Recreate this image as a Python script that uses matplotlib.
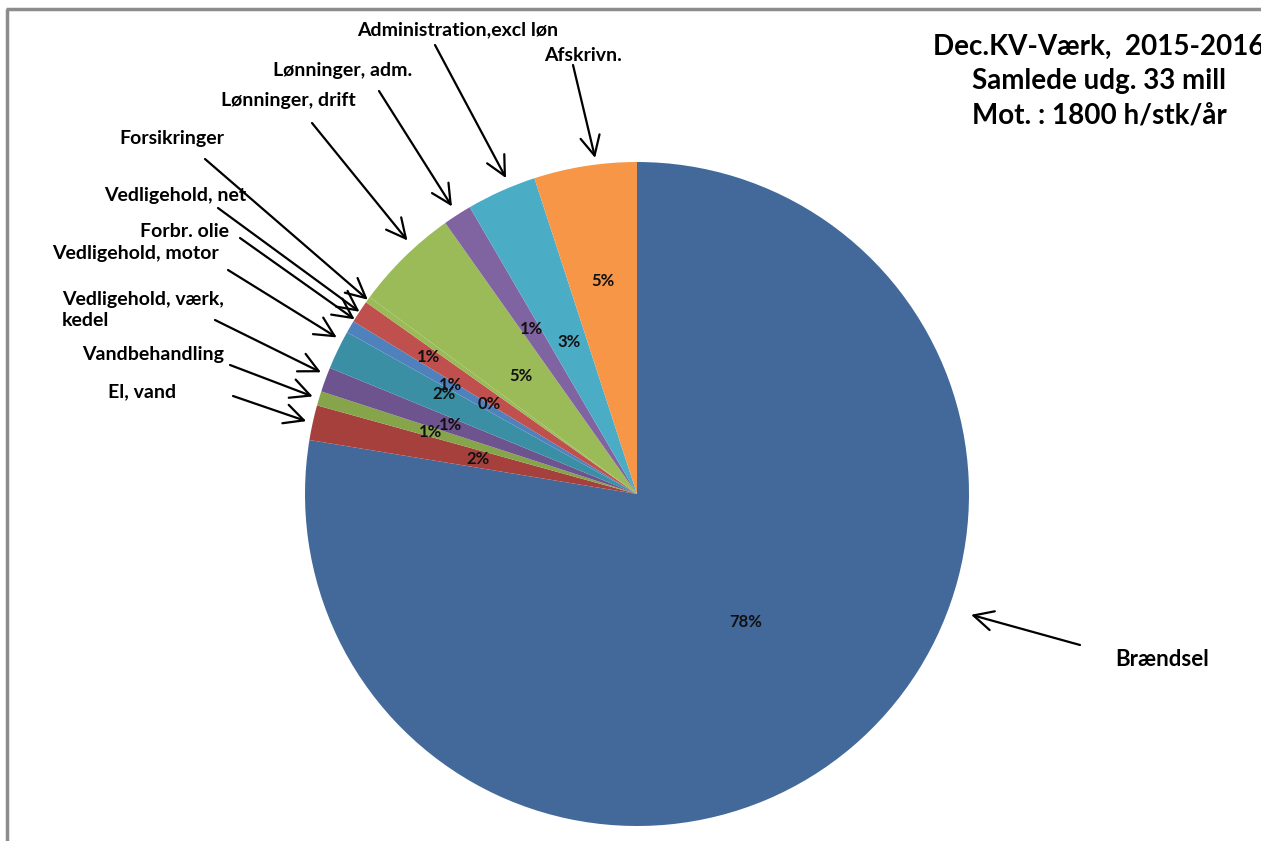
import matplotlib.pyplot as plt
import numpy as np

plt.rcParams['font.family'] = ['Lato', 'DejaVu Sans']

# udgiftsposter og andel af samlede udgifter i %
poster = ['Brændsel', 'El, vand', 'Vandbehandling', 'Vedligehold, værk,\nkedel',
          'Vedligehold, motor', 'Forbr. olie', 'Vedligehold, net', 'Forsikringer',
          'Lønninger, drift', 'Lønninger, adm.', 'Administration,excl løn', 'Afskrivn.']
andel = [77.6, 1.7, 0.7, 1.2, 1.9, 0.6, 1.1, 0.3, 5.1, 1.4, 3.4, 5.0]
farver = ['#43699b', '#a5403d', '#86a44a', '#6d548f', '#3a8fa5', '#4f81bd',
          '#c0504d', '#9bbb59', '#9bbb59', '#8064a2', '#4bacc6', '#f79646']
titel = 'Dec.KV-Værk,  2015-2016\nSamlede udg. 33 mill\nMot. : 1800 h/stk/år'

W, H = 1261, 841


def px(x, y):
    # pixel (fra øverste venstre hjørne) -> data
    return x, H - y


fig = plt.figure(figsize=(W / 100, H / 100), dpi=100)
ax = fig.add_axes([0, 0, 1, 1])

R = 332
cx, cy = px(637, 494)
wedges, _, pcts = ax.pie(andel, colors=farver, startangle=90, counterclock=False,
                         center=(cx, cy), radius=R, autopct='%.0f%%',
                         wedgeprops=dict(linewidth=0),
                         textprops=dict(fontsize=12, fontweight='bold', color='#111111'))

# procent-labels: afstand fra centrum (andel af radius) og lille vinkelforskydning
pct_r = [0.505, 0.49, 0.65, 0.60, 0.655, 0.65, 0.75, 0.52, 0.50, 0.59, 0.50, 0.65]
pct_skift = [0, 0, 0, 0, -1.7, 0, 0, 4.4, 0, 0, 0, 0]
for w, t, r, s in zip(wedges, pcts, pct_r, pct_skift):
    a = np.deg2rad((w.theta1 + w.theta2) / 2 + s)
    t.set_position((cx + r * R * np.cos(a), cy + r * R * np.sin(a)))
    t.set_ha('center')
    t.set_va('center')

# navne med pile ind mod stykkerne
tekst_pos = [(1162, 659), (142, 392), (153, 354), (62, 310), (135, 253), (185, 231),
             (175, 195), (172, 138), (288, 100), (343, 70), (458, 30), (583, 55)]
tekst_str = [16, 14, 14, 14, 14, 14, 14, 14, 14, 14, 14, 14]
pil_fra = [(1080, 645), (233, 396), (230, 365), (215, 320), (228, 270), (240, 238),
           (218, 208), (205, 159), (312, 123), (379, 91), (435, 45), (573, 65)]
pil_skift = [29.8, 0, 0, -0.9, -1.8, -1.5, 0, 0, -2.3, 0, -1.6, -1.9]
pil_r = [1.07, 1.02, 1.02, 1.02, 1.02, 1.0, 1.0, 1.0, 1.03, 1.03, 1.03, 1.02]

for w, navn, tp, fs, fra, s, r in zip(wedges, poster, tekst_pos, tekst_str,
                                      pil_fra, pil_skift, pil_r):
    a = np.deg2rad((w.theta1 + w.theta2) / 2 + s)
    spids = (cx + r * R * np.cos(a), cy + r * R * np.sin(a))
    ax.annotate('', xy=spids, xytext=px(*fra),
                arrowprops=dict(arrowstyle='->,head_length=0.7,head_width=0.35',
                                lw=1.6, color='black', mutation_scale=20,
                                shrinkA=0, shrinkB=0))
    ha = 'left' if '\n' in navn else 'center'
    ax.text(*px(*tp), navn, ha=ha, va='center', fontsize=fs, fontweight='bold',
            linespacing=1.3)

ax.text(*px(1099, 81), titel, ha='center', va='center', fontsize=20,
        fontweight='bold', linespacing=1.4)

# ramme
ax.plot([7, 7], [0, H - 9], color='#8c8c8c', lw=2.5, solid_capstyle='butt')
ax.plot([6, W], [H - 9, H - 9], color='#8c8c8c', lw=2.5, solid_capstyle='butt')

ax.set_xlim(0, W)
ax.set_ylim(0, H)
ax.axis('off')

plt.savefig('out.png', dpi=100)
